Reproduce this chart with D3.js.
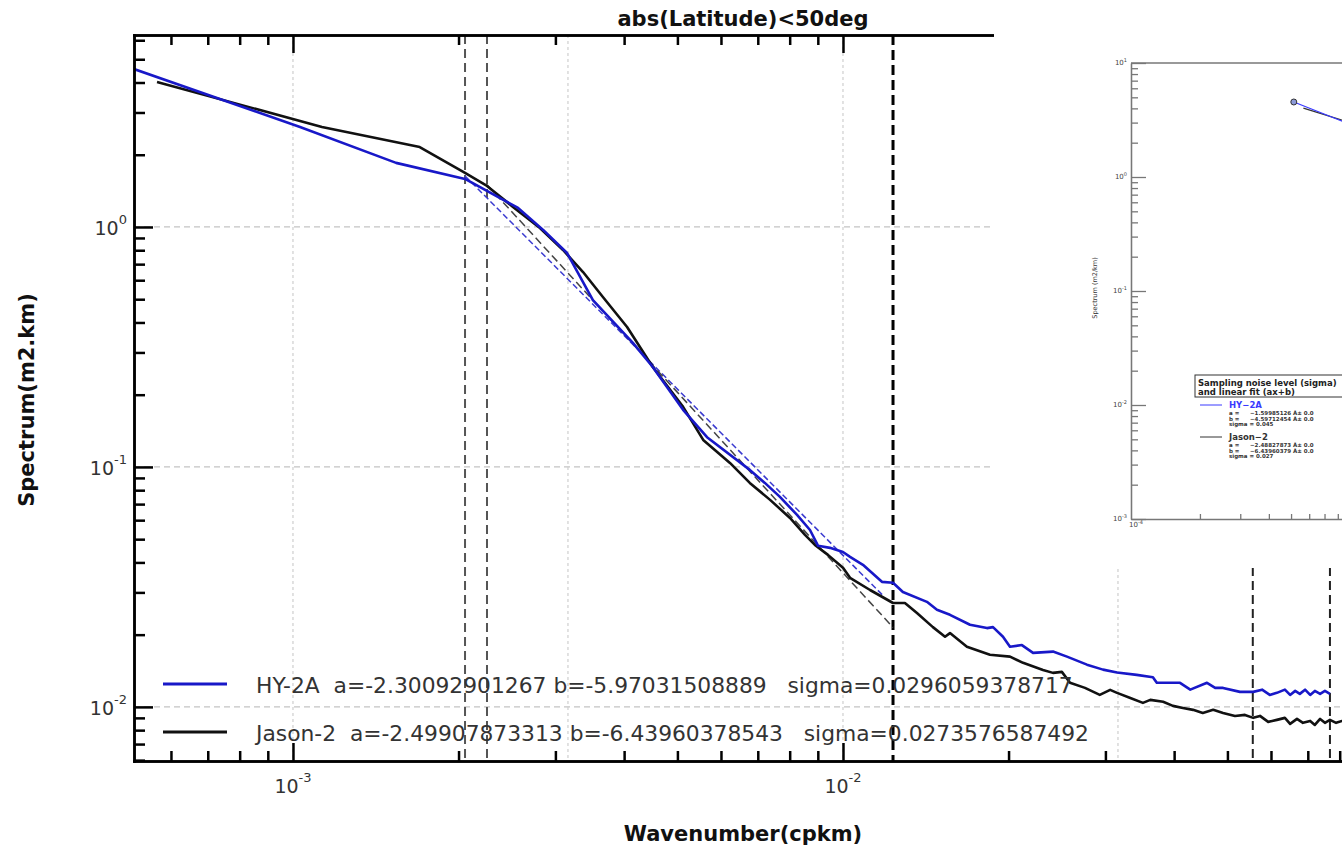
<!DOCTYPE html>
<html lang="en">
<head>
<meta charset="UTF-8">
<title>Spectrum abs(Latitude)&lt;50deg</title>
<style>
    body {
        margin: 0;
        padding: 0;
        background-color: #fff;
        overflow: hidden;
    }

    svg {
        display: block;
        font-family: 'DejaVu Sans', sans-serif;
    }
</style>
</head>
<body>
<svg id="chart" width="1342" height="849"></svg>

<script src="https://d3js.org/d3.v7.min.js"></script>
<script>
    // HY-2A spectrum (wavenumber in cpkm, spectrum in m2.km)
    const hy2aK = [5.14e-4, 1.03e-3, 1.54e-3, 2.055e-3, 2.566e-3, 2.85e-3, 3.15e-3, 3.51e-3, 4.15e-3, 4.51e-3,
        5.12e-3, 5.66e-3, 6.77e-3, 7.21e-3, 7.68e-3, 8.25e-3, 8.71e-3, 9.01e-3, 9.47e-3, 1.00e-2,
        1.03e-2, 1.087e-2, 1.177e-2, 1.233e-2, 1.285e-2, 1.421e-2, 1.482e-2, 1.565e-2, 1.702e-2, 1.827e-2,
        1.874e-2, 1.954e-2, 2.012e-2, 2.115e-2, 2.216e-2, 2.409e-2, 2.554e-2, 2.777e-2, 2.970e-2, 3.15e-2,
        3.42e-2, 3.66e-2, 3.72e-2, 4.10e-2, 4.28e-2, 4.59e-2, 4.75e-2, 4.91e-2, 5.27e-2, 5.57e-2,
        5.78e-2, 5.97e-2, 6.15e-2, 6.36e-2, 6.50e-2, 6.64e-2, 6.77e-2, 6.92e-2, 7.07e-2, 7.21e-2,
        7.37e-2, 7.52e-2, 7.68e-2];
    const hy2aS = [4.55, 2.61, 1.85, 1.585, 1.20, 0.972, 0.779, 0.496, 0.329, 0.261,
        0.173, 0.133, 0.0972, 0.0858, 0.0750, 0.0631, 0.0546, 0.0469, 0.0460, 0.0442,
        0.0422, 0.0391, 0.0332, 0.0329, 0.0301, 0.0274, 0.0254, 0.0242, 0.0220, 0.0213,
        0.0215, 0.0196, 0.0178, 0.0181, 0.0168, 0.0170, 0.0162, 0.0150, 0.0143, 0.0139,
        0.0136, 0.0133, 0.0126, 0.0126, 0.0118, 0.0126, 0.0120, 0.0120, 0.01155, 0.01155,
        0.0118, 0.01122, 0.01144, 0.0118, 0.01122, 0.01166, 0.01133, 0.0118, 0.01122, 0.01166,
        0.01133, 0.01166, 0.01133];

    // Jason-2 spectrum
    const jasonK = [5.66e-4, 1.129e-3, 1.70e-3, 2.055e-3, 2.253e-3, 2.512e-3, 2.812e-3, 3.097e-3, 3.368e-3, 3.66e-3,
        4.05e-3, 4.51e-3, 5.12e-3, 5.57e-3, 6.23e-3, 6.77e-3, 7.37e-3, 8.01e-3, 8.53e-3, 8.89e-3,
        9.39e-3, 1.00e-2, 1.03e-2, 1.12e-2, 1.233e-2, 1.296e-2, 1.363e-2, 1.457e-2, 1.533e-2, 1.565e-2,
        1.68e-2, 1.85e-2, 2.012e-2, 2.125e-2, 2.31e-2, 2.409e-2, 2.50e-2, 2.587e-2, 2.754e-2, 2.93e-2,
        3.06e-2, 3.15e-2, 3.33e-2, 3.51e-2, 3.62e-2, 3.82e-2, 3.98e-2, 4.15e-2, 4.33e-2, 4.51e-2,
        4.71e-2, 4.91e-2, 5.16e-2, 5.38e-2, 5.57e-2, 5.73e-2, 5.93e-2, 6.15e-2, 6.36e-2, 6.50e-2,
        6.69e-2, 6.86e-2, 7.07e-2, 7.21e-2, 7.37e-2, 7.52e-2, 7.68e-2, 7.88e-2, 8.08e-2, 8.35e-2];
    const jasonS = [4.02, 2.61, 2.154, 1.679, 1.482, 1.212, 0.990, 0.802, 0.649, 0.511,
        0.383, 0.261, 0.178, 0.1296, 0.1039, 0.0858, 0.0729, 0.0613, 0.0521, 0.0473,
        0.0430, 0.0380, 0.0345, 0.0307, 0.0271, 0.0271, 0.0246, 0.0215, 0.0196, 0.0203,
        0.0178, 0.0165, 0.0162, 0.01526, 0.01426, 0.01386, 0.01399, 0.0126, 0.0120, 0.01122,
        0.01177, 0.01144, 0.0109, 0.01039, 0.0107, 0.0105, 0.0101, 0.0099, 0.00972, 0.00944,
        0.00972, 0.00944, 0.00917, 0.00926, 0.0090, 0.00917, 0.00866, 0.00883, 0.0090, 0.0085,
        0.00891, 0.00858, 0.00874, 0.00841, 0.00891, 0.00858, 0.00883, 0.00858, 0.00874, 0.00866];

    // linear fits in log-log space: log10(S) = a*log10(k) + b
    const fitNames = ["HY-2A", "Jason-2"];
    const fitA = [-2.30092901267, -2.49907873313];
    const fitB = [-5.97031508889, -6.43960378543];
    const fitSigma = [0.0296059378717, 0.0273576587492];
    const fitRangeK = [[2.055e-3, 1.18e-2], [2.253e-3, 1.233e-2]];

    // vertical reference lines (cpkm)
    const markerK = [2.055e-3, 2.253e-3, 1.233e-2, 5.56e-2, 7.68e-2];

    const gridK = [1e-3, 3.162e-3, 1e-2, 3.162e-2];
    const gridS = [1e-2, 1e-1, 1];
    const xMajor = [1e-3, 1e-2];
    const xMajorExp = ["-3", "-2"];
    const yMajor = [1e-2, 1e-1, 1];
    const yMajorExp = ["-2", "-1", "0"];

    // inset (sampling noise level figure)
    const insetYMajor = [1e-3, 1e-2, 1e-1, 1, 10];
    const insetYExp = ["-3", "-2", "-1", "0", "1"];
    const insetLegendTitle = ["Sampling noise level (sigma)", "and linear fit (ax+b)"];
    const insetLegendRows = [
        ["a =", "\u22121.59985126 \u00c2\u00b1 0.0"],
        ["b =", "\u22124.59712454 \u00c2\u00b1 0.0"],
        ["sigma = 0.045", ""],
        ["a =", "\u22122.48827873 \u00c2\u00b1 0.0"],
        ["b =", "\u22126.43960379 \u00c2\u00b1 0.0"],
        ["sigma = 0.027", ""]
    ];

    const BLUE = "#1818c8";
    const BLACK = "#111";

    const svg = d3.select("#chart");

    const plot = {left: 134, right: 1393, top: 35, bottom: 761};

    const x = d3.scaleLog().domain([5.14e-4, 0.1]).range([plot.left, plot.right]);
    const y = d3.scaleLog().domain([5.95e-3, 6.31]).range([plot.bottom, plot.top]);

    function logMinor(lo, hi) {
        const v = [];
        for (let e = -5; e <= 1; e++) {
            for (let m = 2; m <= 9; m++) {
                const t = m * Math.pow(10, e);
                if (t >= lo && t <= hi) v.push(t);
            }
        }
        return v;
    }

    svg.append("defs").append("clipPath").attr("id", "plot-clip")
        .append("rect")
        .attr("x", plot.left).attr("y", plot.top)
        .attr("width", plot.right - plot.left).attr("height", plot.bottom - plot.top);

    // grid
    svg.append("g").selectAll("line")
        .data(gridS)
        .enter().append("line")
        .attr("x1", plot.left).attr("x2", plot.right)
        .attr("y1", d => y(d)).attr("y2", d => y(d))
        .attr("stroke", "#c4c4c4").attr("stroke-width", 1.2)
        .attr("stroke-dasharray", "6,4");

    svg.append("g").selectAll("line")
        .data(gridK)
        .enter().append("line")
        .attr("x1", d => x(d)).attr("x2", d => x(d))
        .attr("y1", plot.top).attr("y2", plot.bottom)
        .attr("stroke", "#cfcfcf").attr("stroke-width", 1.2)
        .attr("stroke-dasharray", "3,3");

    // vertical reference lines
    const markerStyle = [
        {color: "#555", width: 2, dash: "9,5"},
        {color: "#555", width: 2, dash: "9,5"},
        {color: "#000", width: 3, dash: "10,5"},
        {color: "#222", width: 2, dash: "9,5"},
        {color: "#222", width: 2, dash: "9,5"}
    ];
    svg.append("g").selectAll("line")
        .data(markerK)
        .enter().append("line")
        .attr("x1", d => x(d)).attr("x2", d => x(d))
        .attr("y1", plot.top).attr("y2", plot.bottom)
        .attr("stroke", (d, i) => markerStyle[i].color)
        .attr("stroke-width", (d, i) => markerStyle[i].width)
        .attr("stroke-dasharray", (d, i) => markerStyle[i].dash);

    // fit lines
    const fitStyle = [
        {color: "#3a3ad0", width: 1.5, dash: "6,3"},
        {color: "#444", width: 1.5, dash: "8,4"}
    ];
    svg.append("g").attr("clip-path", "url(#plot-clip)")
        .selectAll("line")
        .data(fitNames)
        .enter().append("line")
        .attr("x1", (d, i) => x(fitRangeK[i][0]))
        .attr("x2", (d, i) => x(fitRangeK[i][1]))
        .attr("y1", (d, i) => y(Math.pow(10, fitA[i] * Math.log10(fitRangeK[i][0]) + fitB[i])))
        .attr("y2", (d, i) => y(Math.pow(10, fitA[i] * Math.log10(fitRangeK[i][1]) + fitB[i])))
        .attr("stroke", (d, i) => fitStyle[i].color)
        .attr("stroke-width", (d, i) => fitStyle[i].width)
        .attr("stroke-dasharray", (d, i) => fitStyle[i].dash);

    // spectra
    const line = d3.line()
        .x(d => x(d[0]))
        .y(d => y(d[1]));

    const curves = svg.append("g").attr("clip-path", "url(#plot-clip)");
    curves.append("path")
        .datum(jasonK.map((k, i) => [k, jasonS[i]]))
        .attr("d", line)
        .attr("fill", "none")
        .attr("stroke", BLACK)
        .attr("stroke-width", 2.6)
        .attr("stroke-linejoin", "round");
    curves.append("path")
        .datum(hy2aK.map((k, i) => [k, hy2aS[i]]))
        .attr("d", line)
        .attr("fill", "none")
        .attr("stroke", BLUE)
        .attr("stroke-width", 2.6)
        .attr("stroke-linejoin", "round");

    // axes: ticks pointing inward
    function styleAxis(g) {
        g.selectAll("path, line").attr("stroke", "#000").attr("stroke-width", 2.5);
        g.select(".domain").attr("stroke-linecap", "square");
        g.selectAll("text").remove();
    }

    const xMinor = logMinor(x.domain()[0], x.domain()[1]);
    const yMinor = logMinor(y.domain()[0], y.domain()[1]);

    [[d3.axisTop, plot.bottom], [d3.axisBottom, plot.top]].forEach(function (a) {
        svg.append("g").attr("transform", "translate(0," + a[1] + ")")
            .call(a[0](x).tickValues(xMinor).tickSize(10).tickSizeOuter(0).tickFormat(""))
            .call(styleAxis);
        svg.append("g").attr("transform", "translate(0," + a[1] + ")")
            .call(a[0](x).tickValues(xMajor).tickSize(18).tickSizeOuter(0).tickFormat(""))
            .call(styleAxis);
    });
    svg.append("g").attr("transform", "translate(" + plot.left + ",0)")
        .call(d3.axisRight(y).tickValues(yMinor).tickSize(11).tickSizeOuter(0).tickFormat(""))
        .call(styleAxis);
    svg.append("g").attr("transform", "translate(" + plot.left + ",0)")
        .call(d3.axisRight(y).tickValues(yMajor).tickSize(19).tickSizeOuter(0).tickFormat(""))
        .call(styleAxis);

    // tick labels 10^n
    function powerLabel(sel, exp, size, supSize, rise) {
        sel.append("tspan").text("10");
        sel.append("tspan").attr("dy", -rise).attr("font-size", supSize).text(exp);
    }

    xMajor.forEach(function (v, i) {
        const t = svg.append("text")
            .attr("x", x(v)).attr("y", 793)
            .attr("text-anchor", "middle")
            .attr("font-size", 19).attr("fill", "#333");
        powerLabel(t, xMajorExp[i], 19, 13, 11);
    });
    yMajor.forEach(function (v, i) {
        const t = svg.append("text")
            .attr("x", 127).attr("y", y(v) + 8)
            .attr("text-anchor", "end")
            .attr("font-size", 19).attr("fill", "#333");
        powerLabel(t, yMajorExp[i], 19, 13, 11);
    });

    // legend
    const legendY = [684, 732];
    const legendColor = [BLUE, BLACK];
    fitNames.forEach(function (name, i) {
        svg.append("line")
            .attr("x1", 163).attr("x2", 227)
            .attr("y1", legendY[i]).attr("y2", legendY[i])
            .attr("stroke", legendColor[i]).attr("stroke-width", 3);
        svg.append("text")
            .attr("x", 256).attr("y", legendY[i] + 9)
            .attr("font-size", 21.8).attr("fill", "#333")
            .style("white-space", "pre")
            .text(name + "  a=" + fitA[i] + " b=" + fitB[i] + "   sigma=" + fitSigma[i]);
    });

    // titles
    svg.append("text")
        .attr("x", 743).attr("y", 26)
        .attr("text-anchor", "middle")
        .attr("font-size", 21).attr("font-weight", "bold").attr("fill", "#111")
        .text("abs(Latitude)<50deg");
    svg.append("text")
        .attr("x", 743).attr("y", 841)
        .attr("text-anchor", "middle")
        .attr("font-size", 21).attr("font-weight", "bold").attr("fill", "#111")
        .text("Wavenumber(cpkm)");
    svg.append("text")
        .attr("transform", "translate(34,400) rotate(-90)")
        .attr("text-anchor", "middle")
        .attr("font-size", 21).attr("font-weight", "bold").attr("fill", "#111")
        .text("Spectrum(m2.km)");

    // ---- inset figure pasted on top right ----
    const inset = svg.append("g");
    inset.append("rect")
        .attr("x", 994).attr("y", 0).attr("width", 348).attr("height", 568)
        .attr("fill", "#fff");

    const ibox = {left: 1131, right: 1589, top: 63, bottom: 519};
    const ix = d3.scaleLog().domain([1e-4, 1e-2]).range([ibox.left, ibox.right]);
    const iy = d3.scaleLog().domain([1e-3, 10]).range([ibox.bottom, ibox.top]);

    svg.select("defs").append("clipPath").attr("id", "inset-clip")
        .append("rect")
        .attr("x", ibox.left).attr("y", ibox.top)
        .attr("width", 1342 - ibox.left).attr("height", ibox.bottom - ibox.top);

    function styleInsetAxis(g) {
        g.selectAll("path, line").attr("stroke", "#777").attr("stroke-width", 1.3);
        g.selectAll("text").remove();
    }

    inset.append("g").attr("transform", "translate(" + ibox.left + ",0)")
        .call(d3.axisRight(iy).tickValues(logMinor(1e-3, 10)).tickSize(7).tickSizeOuter(0).tickFormat(""))
        .call(styleInsetAxis);
    inset.append("g").attr("transform", "translate(" + ibox.left + ",0)")
        .call(d3.axisRight(iy).tickValues(insetYMajor).tickSize(15).tickSizeOuter(0).tickFormat(""))
        .call(styleInsetAxis);
    inset.append("g").attr("transform", "translate(0," + ibox.bottom + ")")
        .call(d3.axisTop(ix).tickValues(logMinor(1e-4, 1e-2)).tickSize(5).tickSizeOuter(0).tickFormat(""))
        .call(styleInsetAxis);
    inset.append("line")
        .attr("x1", ibox.left).attr("x2", 1342)
        .attr("y1", ibox.top).attr("y2", ibox.top)
        .attr("stroke", "#777").attr("stroke-width", 1.3);

    insetYMajor.forEach(function (v, i) {
        const t = inset.append("text")
            .attr("x", 1127).attr("y", iy(v) + 2)
            .attr("text-anchor", "end")
            .attr("font-size", 7).attr("fill", "#444");
        powerLabel(t, insetYExp[i], 7, 5, 3);
    });
    const ixl = inset.append("text")
        .attr("x", 1129).attr("y", 527)
        .attr("font-size", 7).attr("fill", "#444");
    powerLabel(ixl, "-4", 7, 5, 3);

    inset.append("text")
        .attr("transform", "translate(1097,288) rotate(-90)")
        .attr("text-anchor", "middle")
        .attr("font-size", 6.5).attr("fill", "#333")
        .text("Spectrum (m2/km)");

    const iline = d3.line()
        .x(d => ix(d[0]))
        .y(d => iy(d[1]));
    const icurves = inset.append("g").attr("clip-path", "url(#inset-clip)");
    icurves.append("path")
        .datum(jasonK.map((k, i) => [k, jasonS[i]]))
        .attr("d", iline)
        .attr("fill", "none").attr("stroke", "#333").attr("stroke-width", 1.3);
    icurves.append("path")
        .datum(hy2aK.map((k, i) => [k, hy2aS[i]]))
        .attr("d", iline)
        .attr("fill", "none").attr("stroke", "#3a3aff").attr("stroke-width", 1.3);
    icurves.append("circle")
        .attr("cx", ix(hy2aK[0])).attr("cy", iy(hy2aS[0])).attr("r", 3)
        .attr("fill", "#8c9ad8").attr("stroke", "#333").attr("stroke-width", 1);

    // inset legend
    inset.append("rect")
        .attr("x", 1195).attr("y", 375).attr("width", 200).attr("height", 22)
        .attr("fill", "#fff").attr("stroke", "#333").attr("stroke-width", 1);
    insetLegendTitle.forEach(function (s, i) {
        inset.append("text")
            .attr("x", 1198).attr("y", 386 + i * 9)
            .attr("font-size", 8.5).attr("font-weight", "bold").attr("fill", "#222")
            .text(s);
    });
    const insetLegendY = [405, 437];
    const insetLegendColor = ["#3a3aff", "#333"];
    fitNames.forEach(function (name, i) {
        inset.append("line")
            .attr("x1", 1200).attr("x2", 1222)
            .attr("y1", insetLegendY[i]).attr("y2", insetLegendY[i])
            .attr("stroke", insetLegendColor[i]).attr("stroke-width", 1);
        inset.append("text")
            .attr("x", 1229).attr("y", insetLegendY[i] + 3)
            .attr("font-size", 8.5).attr("font-weight", "bold")
            .attr("fill", insetLegendColor[i])
            .text(name.replace("-", "\u2212"));
        for (let r = 0; r < 3; r++) {
            const row = insetLegendRows[i * 3 + r];
            const ty = insetLegendY[i] + 10 + r * 5.5;
            inset.append("text")
                .attr("x", 1229).attr("y", ty)
                .attr("font-size", 5.5).attr("font-weight", "bold").attr("fill", "#333")
                .text(row[0]);
            inset.append("text")
                .attr("x", 1250).attr("y", ty)
                .attr("font-size", 5.5).attr("font-weight", "bold").attr("fill", "#333")
                .text(row[1]);
        }
    });
</script>
</body>
</html>
